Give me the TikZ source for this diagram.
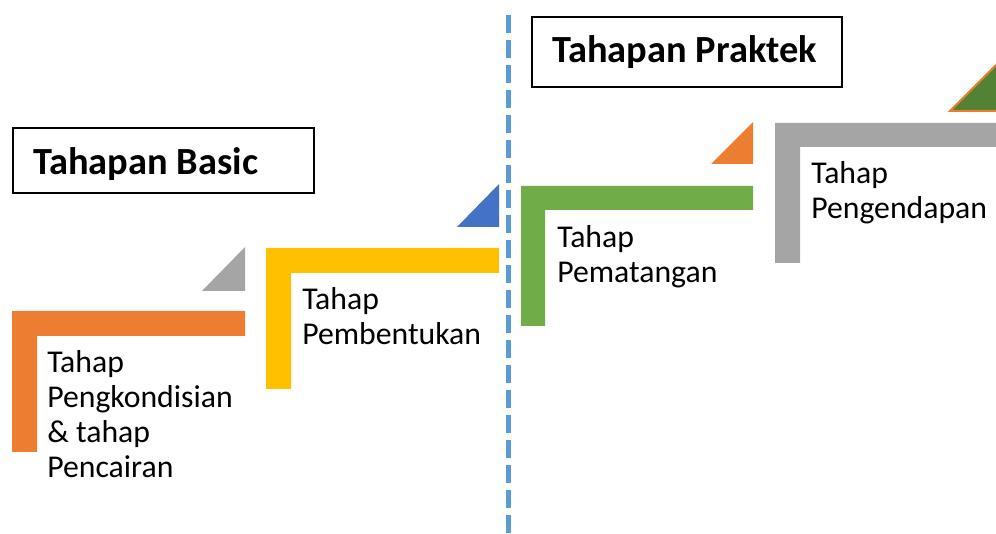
\documentclass[tikz,border=0pt]{standalone}
\usepackage{fontspec}
\setmainfont{Carlito}
\definecolor{cOrange}{HTML}{ED7D31}
\definecolor{cYellow}{HTML}{FFC000}
\definecolor{cBlue}{HTML}{4472C4}
\definecolor{cGreen}{HTML}{70AD47}
\definecolor{cGray}{HTML}{A5A5A5}
\definecolor{cDash}{HTML}{5B9BD5}
\definecolor{cDkGreen}{HTML}{548235}
\begin{document}
\begin{tikzpicture}[x=0.75pt,y=-0.75pt,
  steptext/.style={anchor=base west,inner sep=0pt,align=left,font=\fontsize{23.8}{26.25}\selectfont},
  titlebox/.style={draw=black,line width=1.5pt,inner sep=0pt,anchor=north west},
  titletext/.style={anchor=base west,inner sep=0pt,font=\fontsize{28.8}{34}\selectfont\bfseries}]
\useasboundingbox (0,0) rectangle (996,534);
% dashed separator
\coordinate (dtop) at (508,15);
\coordinate (dbot) at (508,534);
\draw[cDash,line width=3.75pt,dash pattern=on 13.5pt off 5.25pt] (dtop) -- (dbot);
% L shapes
\fill[cOrange] (12,311) -- (245,311) -- (245,336) -- (37,336) -- (37,452) -- (12,452) -- cycle;
\fill[cYellow] (266,248) -- (499,248) -- (499,273) -- (291,273) -- (291,389) -- (266,389) -- cycle;
\fill[cGreen] (521,186) -- (753,186) -- (753,210) -- (545,210) -- (545,326) -- (521,326) -- cycle;
\fill[cGray] (775,123) -- (1000,123) -- (1000,147) -- (800,147) -- (800,263) -- (775,263) -- cycle;
% triangles
\fill[cGray] (202,291) -- (245,247) -- (245,291) -- cycle;
\fill[cBlue] (457,227) -- (499,184) -- (499,227) -- cycle;
\fill[cOrange] (711,164) -- (753,122) -- (753,164) -- cycle;
\draw[cOrange,fill=cDkGreen,line width=1.5pt] (950,111) -- (1000,61) -- (1000,111) -- cycle;
% title boxes
\node[titlebox,minimum width=225.75pt,minimum height=48.75pt] (basic) at (12,127) {};
\node[titletext] (basicT) at (33,175) {Tahapan Basic};
\node[titlebox,minimum width=232.5pt,minimum height=52.5pt] (praktek) at (531,16) {};
\node[titletext] (praktekT) at (552,63) {Tahapan Praktek};
% step texts
\node[steptext] (t1) at (47,478) {Tahap\\Pengkondisian\\\& tahap\\Pencairan};
\node[steptext] (t2) at (302,345) {Tahap\\Pembentukan};
\node[steptext] (t3) at (557,283) {Tahap\\Pematangan};
\node[steptext] (t4) at (811,219) {Tahap\\Pengendapan};
\end{tikzpicture}
\end{document}
